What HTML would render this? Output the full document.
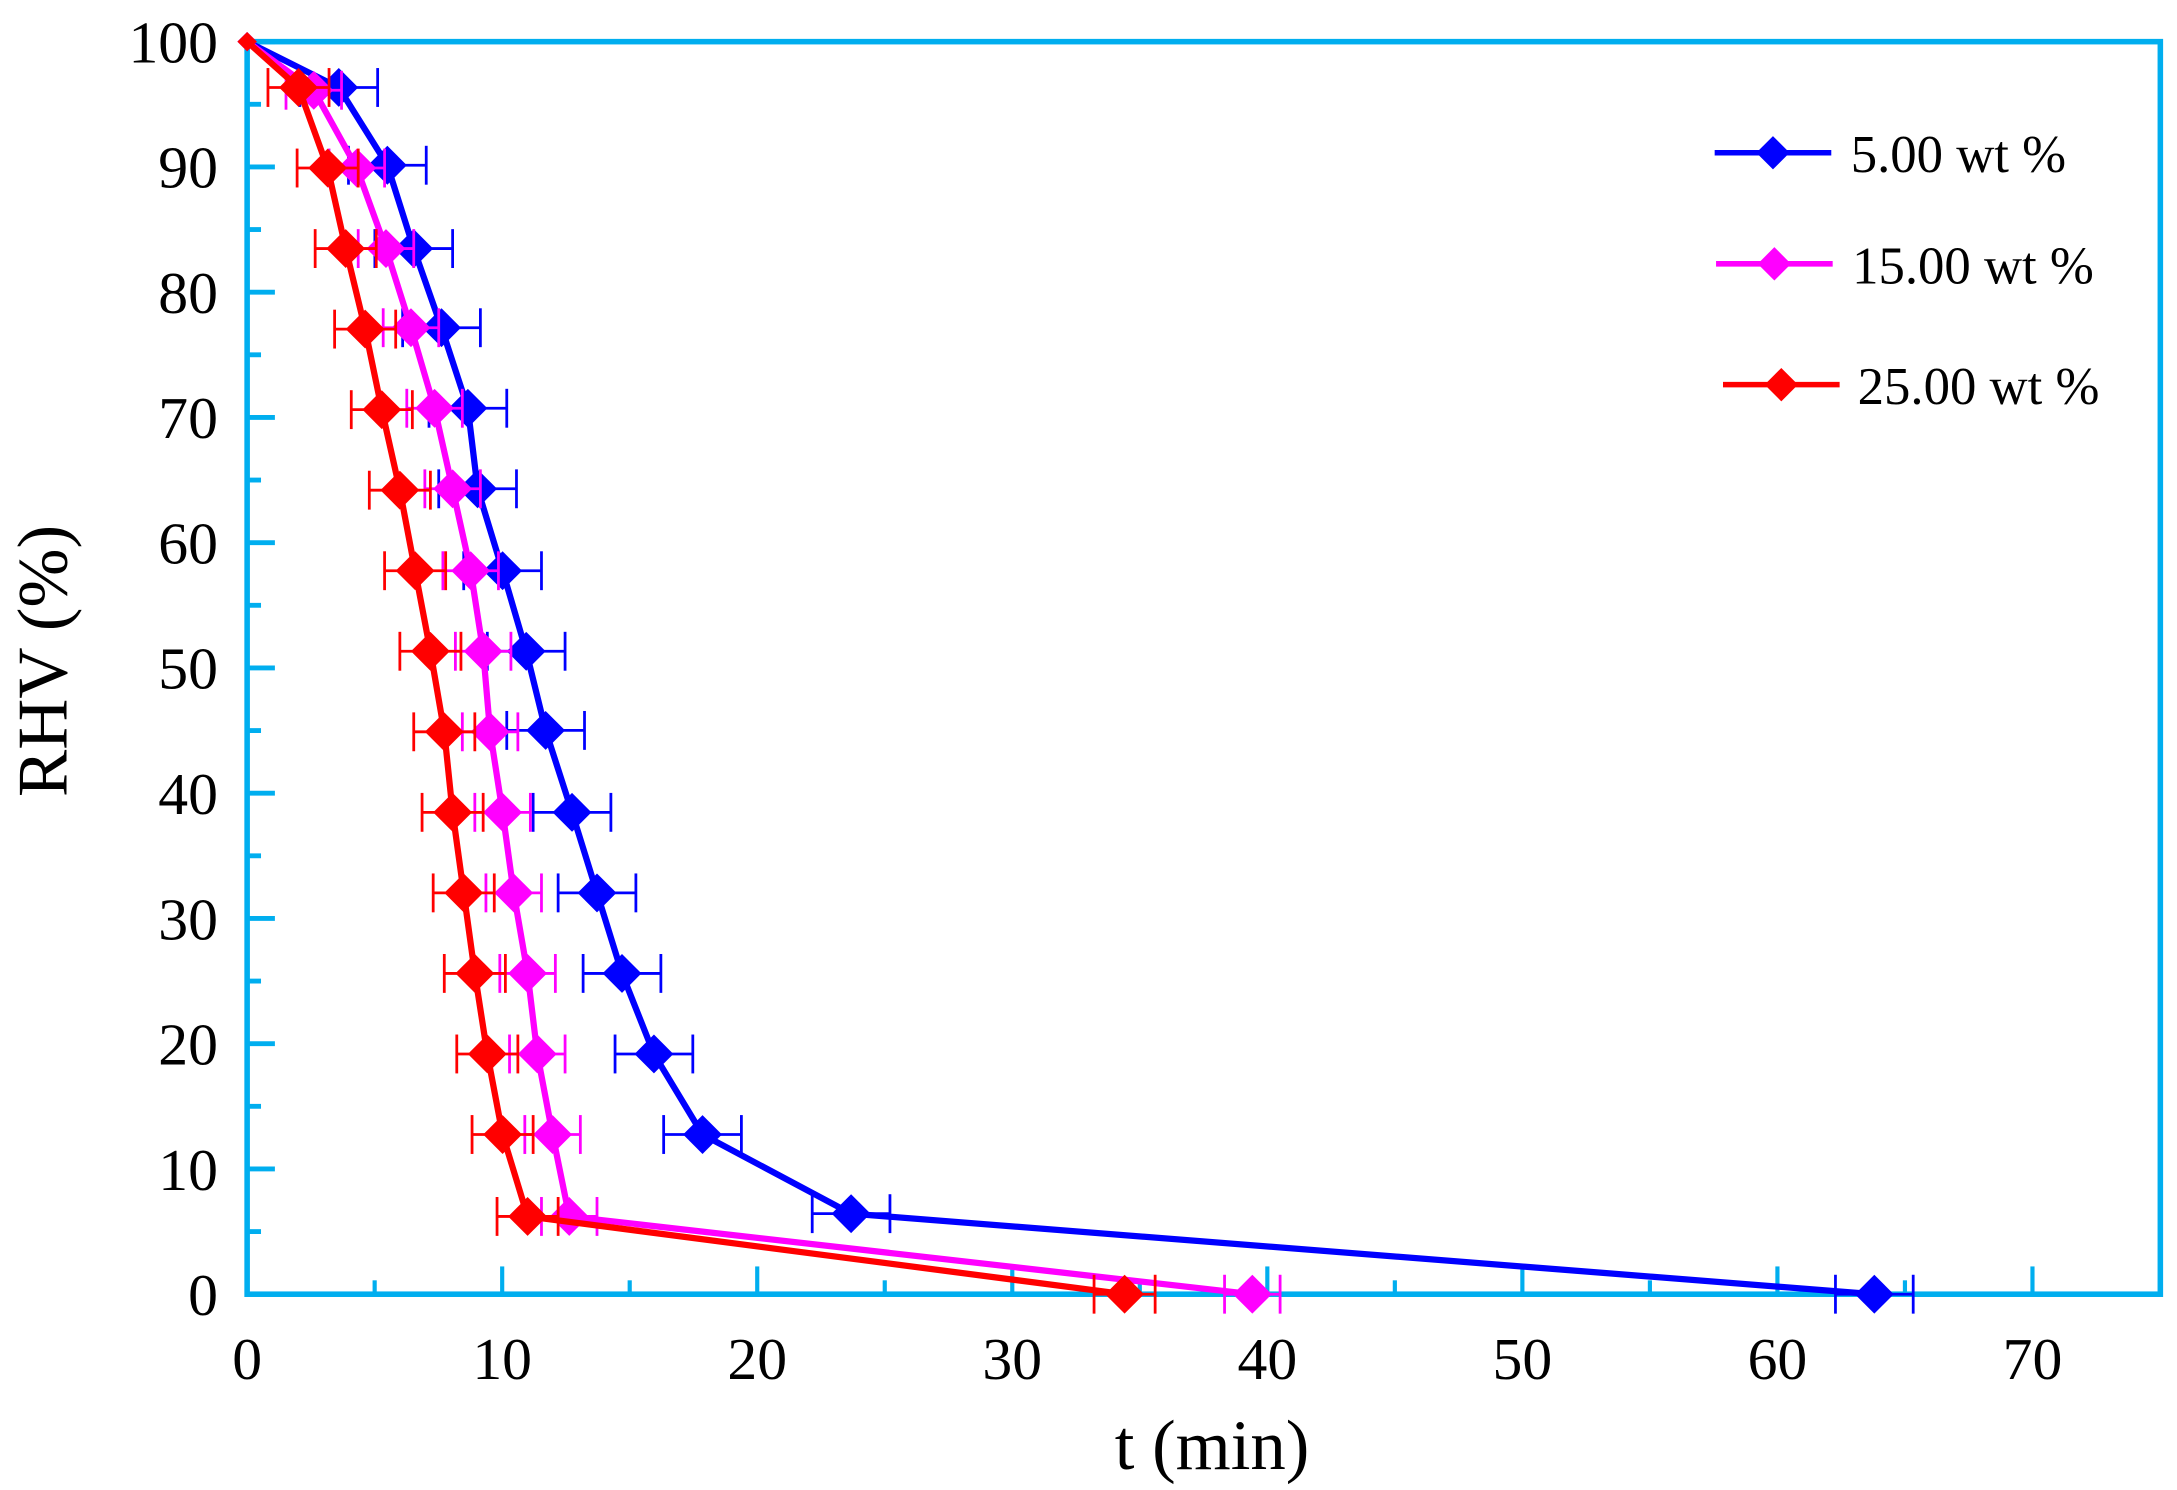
<!DOCTYPE html>
<html><head><meta charset="utf-8"><style>
html,body{margin:0;padding:0;background:#fff;}
svg{display:block;}
text{font-family:"Liberation Serif",serif;fill:#000;}
</style></head><body>
<svg id="s" width="2177" height="1490" viewBox="0 0 1568 1073" preserveAspectRatio="none" xmlns="http://www.w3.org/2000/svg">
<rect x="0" y="0" width="1568" height="1073" fill="#fff"/>
<g id="ax"></g>
<g id="data"></g>
<g font-size="43" text-anchor="end" id="yl"></g>
<g font-size="43" text-anchor="middle" id="xl"></g>
<text x="873" y="1058" font-size="51" text-anchor="middle">t (min)</text>
<text transform="translate(48,476) rotate(-90)" font-size="51" text-anchor="middle">RHV (%)</text>
<g id="leg"></g>
</svg>
<script>
var NS="http://www.w3.org/2000/svg";
function el(p,t,a){var e=document.createElementNS(NS,t);for(var k in a)e.setAttribute(k,a[k]);p.appendChild(e);return e;}
var ax=document.getElementById('ax'),C='#00AEEF';
var L=178,T=30,B=932,R=1556;
for(var t=0;t<=75;t+=5){var x=L+18.37*t;var len=(t%10==0)?20:10;if(t>0&&x<R)el(ax,'line',{x1:x,y1:B,x2:x,y2:B-len,stroke:C,'stroke-width':3});}
for(var v=0;v<=100;v+=5){var y=B-9.02*v;var len=(v%10==0)?20:10;el(ax,'line',{x1:L,y1:y,x2:L+len,y2:y,stroke:C,'stroke-width':3.5});}
el(ax,'rect',{x:L,y:T,width:R-L,height:B-T,fill:'none',stroke:C,'stroke-width':4});
var yl=document.getElementById('yl');
for(var v=0;v<=100;v+=10){var tx=el(yl,'text',{x:157,y:B-9.02*v+15});tx.textContent=v;}
var xl=document.getElementById('xl');
for(var t=0;t<=70;t+=10){var tx=el(xl,'text',{x:L+18.37*t,y:993});tx.textContent=t;}
var series=[
['#0000FF',28,[[178,30],[244,63],[279,119],[298,179],[318,236],[337,294],[344,352],[362,411],[379,469],[393,526],[412,585],[430,643],[448,701],[471,759],[506,817],[613,874],[1350,932]]],
['#FF00FF',20,[[178,30],[226,65],[257,121],[278,179],[296,236],[313,294],[326,352],[339,411],[348,469],[353,527],[362,585],[370,643],[380,701],[387,759],[398,817],[410,876],[902,932]]],
['#FF0000',22,[[178,30],[215,63],[236,121],[249,179],[263,237],[275,295],[288,353],[299,411],[310,469],[320,527],[326,585],[334,643],[342,701],[351,759],[362,817],[380,876],[810,932]]]
];
var d=document.getElementById('data');
series.forEach(function(s){
 var c=s[0],h=s[1],p=s[2];
 el(d,'polyline',{points:p.map(function(q){return q.join(',')}).join(' '),fill:'none',stroke:c,'stroke-width':4.5,'stroke-linejoin':'round'});
 p.forEach(function(q,i){
  if(i>0){el(d,'line',{x1:q[0]-h,y1:q[1],x2:q[0]+h,y2:q[1],stroke:c,'stroke-width':2});
  el(d,'line',{x1:q[0]-h,y1:q[1]-14,x2:q[0]-h,y2:q[1]+14,stroke:c,'stroke-width':2});
  el(d,'line',{x1:q[0]+h,y1:q[1]-14,x2:q[0]+h,y2:q[1]+14,stroke:c,'stroke-width':2});}
  var r=i==0?7:14;
  el(d,'polygon',{points:(q[0])+','+(q[1]-r)+' '+(q[0]+r)+','+q[1]+' '+q[0]+','+(q[1]+r)+' '+(q[0]-r)+','+q[1],fill:c});
 });
});
var lg=document.getElementById('leg');
[[1235,110,'#0000FF','5.00 wt %',1333],[1236,190,'#FF00FF','15.00 wt %',1334],[1241,277,'#FF0000','25.00 wt %',1338]].forEach(function(a){
 el(lg,'line',{x1:a[0],y1:a[1],x2:a[0]+84,y2:a[1],stroke:a[2],'stroke-width':4});
 var cx=a[0]+42;el(lg,'polygon',{points:cx+','+(a[1]-12)+' '+(cx+12)+','+a[1]+' '+cx+','+(a[1]+12)+' '+(cx-12)+','+a[1],fill:a[2]});
 var t=el(lg,'text',{x:a[4],y:a[1]+14,'font-size':38});t.textContent=a[3];
});
</script>
</body></html>
